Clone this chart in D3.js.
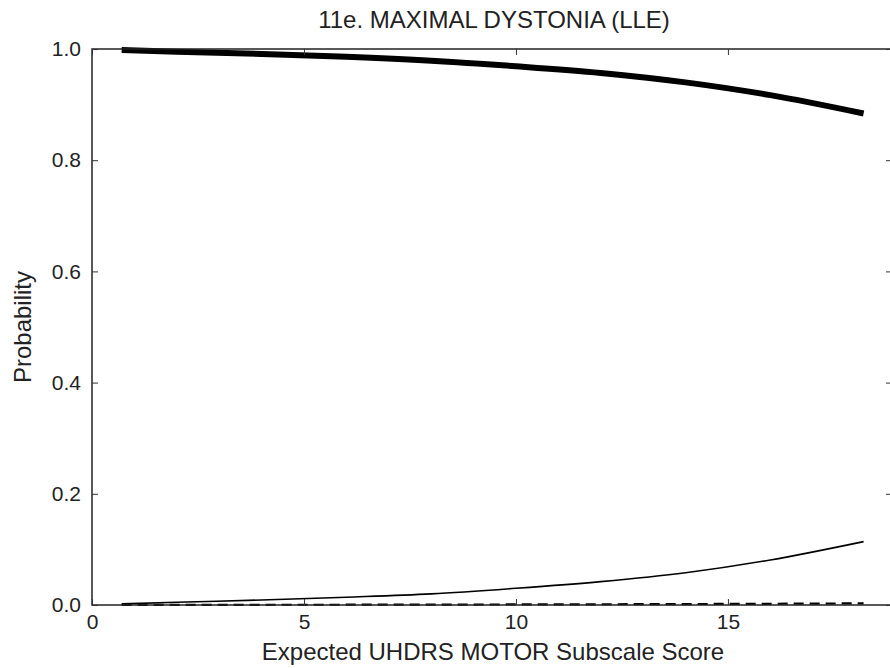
<!DOCTYPE html>
<html><head><meta charset="utf-8">
<script src="https://cdn.jsdelivr.net/npm/d3@7"></script>
<style>body{margin:0;background:#fff}svg{display:block}text{font-family:"Liberation Sans",Arial,sans-serif;fill:#222}</style>
</head><body>
<svg id="c" width="890" height="668"></svg>
<script>
const title = "11e. MAXIMAL DYSTONIA (LLE)";
const xLabel = "Expected UHDRS MOTOR Subscale Score";
const yLabel = "Probability";
const xTicks = [0, 5, 10, 15];
const yTicks = [0.0, 0.2, 0.4, 0.6, 0.8, 1.0];
const scores = [0.7, 2, 4, 6, 8, 10, 12, 14, 16, 18.2];
const probHigh = [0.998, 0.995, 0.991, 0.986, 0.979, 0.969, 0.957, 0.940, 0.917, 0.884];
const probMid  = [0.002, 0.005, 0.009, 0.014, 0.020, 0.030, 0.042, 0.058, 0.081, 0.114];
const probLow  = [0.0002, 0.0003, 0.0004, 0.0005, 0.0007, 0.001, 0.0013, 0.0017, 0.0022, 0.003];

const svg = d3.select("#c");
const L = 92, R = 892, T = 49, B = 605;
const x = d3.scaleLinear().domain([0, 18.87]).range([L, R]);
const y = d3.scaleLinear().domain([0, 1]).range([B, T]);

const line = d3.line().x(d => x(d[0])).y(d => y(d[1])).curve(d3.curveMonotoneX);
const series = [
  {v: probHigh, w: 6, dash: null},
  {v: probMid, w: 1.6, dash: null},
  {v: probLow, w: 2.2, dash: "10,6"}
];
series.forEach(s => {
  svg.append("path").datum(scores.map((sx, i) => [sx, s.v[i]]))
    .attr("d", line).attr("fill", "none").attr("stroke", "#000")
    .attr("stroke-width", s.w).attr("stroke-dasharray", s.dash);
});

// frame
svg.append("rect").attr("x", L).attr("y", T).attr("width", R - L).attr("height", B - T)
  .attr("fill", "none").attr("stroke", "#222").attr("stroke-width", 1.5);

const tk = 6;
const gb = svg.append("g").attr("transform", `translate(0,${B})`)
  .call(d3.axisBottom(x).tickValues(xTicks).tickSizeInner(-tk).tickSizeOuter(0).tickPadding(9).tickFormat(d3.format("d")));
const gt = svg.append("g").attr("transform", `translate(0,${T})`)
  .call(d3.axisTop(x).tickValues(xTicks).tickSizeInner(-tk).tickSizeOuter(0).tickFormat(""));
const gl = svg.append("g").attr("transform", `translate(${L},0)`)
  .call(d3.axisLeft(y).tickValues(yTicks).tickSizeInner(-tk).tickSizeOuter(0).tickPadding(11).tickFormat(d3.format(".1f")));
const gr = svg.append("g").attr("transform", `translate(${R},0)`)
  .call(d3.axisRight(y).tickValues(yTicks).tickSizeInner(-tk).tickSizeOuter(0).tickFormat(""));
[gb, gt, gl, gr].forEach(g => {
  g.select(".domain").remove();
  g.selectAll(".tick line").attr("stroke", "#333");
  g.selectAll("text").attr("font-size", 21).attr("font-family", '"Liberation Sans",Arial,sans-serif').attr("fill", "#222");
});

svg.append("text").attr("x", 494).attr("y", 28).attr("text-anchor", "middle")
  .attr("font-size", 24).text(title);
svg.append("text").attr("x", 493).attr("y", 660).attr("text-anchor", "middle")
  .attr("font-size", 24).text(xLabel);
svg.append("text").attr("transform", `translate(31,327) rotate(-90)`).attr("text-anchor", "middle")
  .attr("font-size", 24).text(yLabel);
</script>
</body></html>
